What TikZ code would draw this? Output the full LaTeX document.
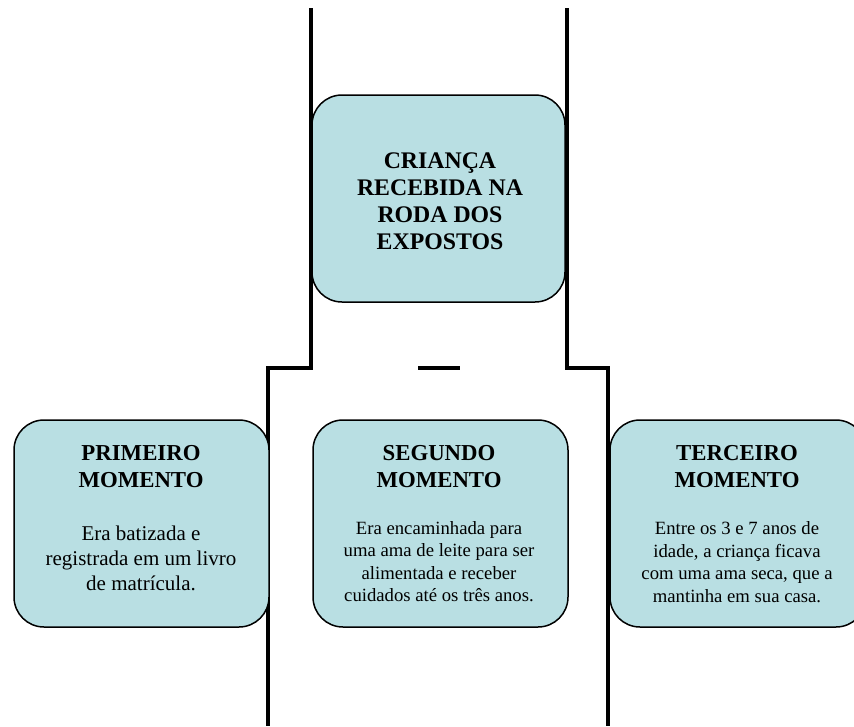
\documentclass[tikz,border=0pt]{standalone}
\usepackage{fontspec}
\setmainfont{Liberation Serif}
\definecolor{boxfill}{HTML}{B9DFE3}
\tikzset{
  card/.style={draw=black, line width=1.5pt, fill=boxfill, rounded corners=30pt,
    inner sep=0pt, minimum width=255pt, minimum height=207pt},
  rail/.style={draw=black, line width=4.5pt, line cap=butt, line join=miter},
  ttl/.style={align=center, inner sep=0pt, font=\fontsize{22.8}{27}\selectfont\bfseries},
  ttlbig/.style={align=center, inner sep=0pt, font=\fontsize{23.8}{27}\selectfont\bfseries},
  bodyA/.style={align=center, inner sep=0pt, font=\fontsize{21}{25}\selectfont},
  bodyB/.style={align=center, inner sep=0pt, font=\fontsize{18.7}{22.5}\selectfont}
}
\begin{document}
\begin{tikzpicture}[x=1pt,y=-1pt]
\useasboundingbox (0,0) rectangle (854,726);
% rails
\coordinate (lt) at (311,8);
\coordinate (lm) at (311,368);
\coordinate (lk) at (268,368);
\coordinate (lb) at (268,726);
\coordinate (rt) at (567,8);
\coordinate (rm) at (567,368);
\coordinate (rk) at (608,368);
\coordinate (rb) at (608,726);
\coordinate (d1) at (418,368);
\coordinate (d2) at (460,368);
\draw[rail] (lt) -- (lm) -- (lk) -- (lb);
\draw[rail] (rt) -- (rm) -- (rk) -- (rb);
\draw[rail] (d1) -- (d2);
% boxes
\node[card, minimum width=253pt] (top) at (438.5,198.5) {};
\node[card] (b1) at (141.5,523.5) {};
\node[card] (b2) at (440.5,523.5) {};
\node[card, minimum width=256pt] (b3) at (738,523.5) {};
% texts
\node[ttlbig] (ttop) at (440,201.5) {CRIANÇA\\RECEBIDA NA\\RODA DOS\\EXPOSTOS};
\node[ttl] (t1) at (141,467) {PRIMEIRO\\MOMENTO};
\node[ttl] (t2) at (439,467) {SEGUNDO\\MOMENTO};
\node[ttl] (t3) at (737,467) {TERCEIRO\\MOMENTO};
\node[bodyA] (x1) at (141,558) {Era batizada e\\registrada em um livro\\de matrícula.};
\node[bodyB] (x2) at (439,561.5) {Era encaminhada para\\uma ama de leite para ser\\alimentada e receber\\cuidados até os três anos.};
\node[bodyB] (x3) at (737,562) {Entre os 3 e 7 anos de\\idade, a criança ficava\\com uma ama seca, que a\\mantinha em sua casa.};
\end{tikzpicture}
\end{document}
